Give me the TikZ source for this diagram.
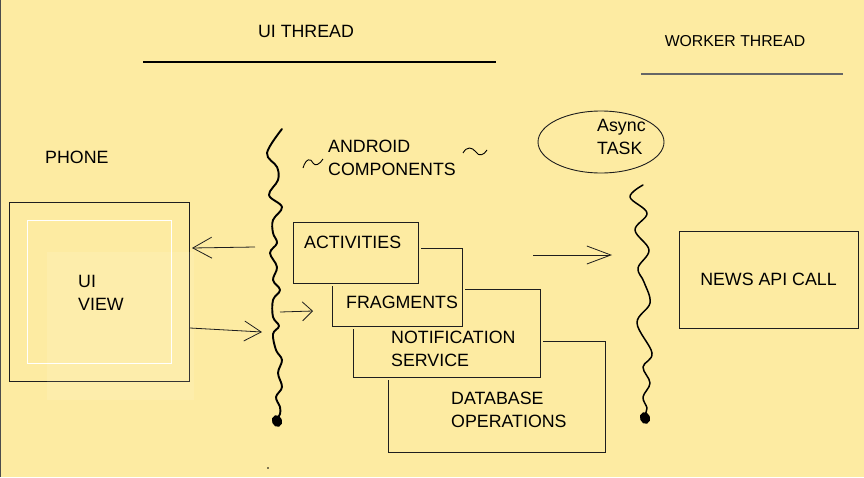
\documentclass[tikz,border=0pt]{standalone}
\usepackage{fontspec}
\setmainfont{Liberation Sans}
\usetikzlibrary{arrows.meta,shapes.geometric}
\definecolor{bg}{RGB}{253,235,162}
\definecolor{ink}{RGB}{30,30,30}
\tikzset{
  lbl/.style={font=\fontsize{17.8}{22.5}\selectfont, inner sep=0pt, anchor=west, align=left, text=black},
  box/.style={draw=ink, line width=0.9pt, fill=bg, rectangle, inner sep=0pt},
  stackbox/.style={box, preaction={draw=bg, line width=6pt}},
  wave/.style={draw=black, line width=1.9pt, line cap=round, line join=round},
  arr/.style={draw=ink, line width=0.8pt},
  blob/.style={fill=black, draw=black, line width=1pt, ellipse, inner sep=0pt, minimum width=9pt, minimum height=11pt, rotate=20},
}
\begin{document}
\begin{tikzpicture}[x=1pt,y=-1pt]
\useasboundingbox (0,0) rectangle (864,477);
\fill[bg] (0,0) rectangle (864,477);
\draw[line width=1.4pt, draw=black!70] (0.7,0) -- (0.7,477);

% titles
\node[lbl, anchor=center] (uit) at (306,31) {UI THREAD};
\draw[line width=1.1pt] (143,62) -- (496,62);
\node[lbl, anchor=center, font=\fontsize{15.8}{20}\selectfont] (wt) at (735,41) {WORKER THREAD};
\draw[line width=1.4pt, draw=black!60] (641,74) -- (843,74);

% phone
\node[lbl] (phone) at (45,157) {PHONE};
\node[box, fill=none, minimum width=180, minimum height=179] (outer) at (99,291.5) {};
\node[draw=white, line width=0.9pt, rectangle, minimum width=144, minimum height=143] (inner) at (99,291.5) {};
\fill[white, fill opacity=0.1] (47,252) rectangle (194,400);
\node[lbl] (uiview) at (78,293) {UI\\VIEW};

% arrows phone <-> thread
\coordinate (a1s) at (255,247);
\coordinate (a1e) at (192,248);
\draw[arr, -{Straight Barb[length=19pt,width=21pt,line width=0.8pt]}] (a1s) -- (a1e);
\coordinate (a2s) at (190,328);
\coordinate (a2e) at (262,332);
\draw[arr, -{Straight Barb[length=17pt,width=20pt,line width=0.8pt]}] (a2s) -- (a2e);

% UI thread wave
\draw[wave] plot[smooth, tension=0.6] coordinates {
  (282,129) (267,153) (277,167) (278,180) (269,195) (282,207) (273,220)
  (273,233) (277,243) (270,253) (277,267) (273,280) (280,290) (273,300)
  (273,317) (279,326) (273,334) (276,350) (282,360) (278,373) (282,387)
  (276,397) (280,407) (280,414) (277,419)};
\node[blob] (b1) at (277,421) {};
\fill[black] (268,468) circle (0.9pt);

% android components
\node[lbl] (ac) at (328,158) {ANDROID\\COMPONENTS};
\draw[line width=0.9pt] (303,168) .. controls (306,158) and (311,158) .. (313,163) .. controls (315,167) and (320,164) .. (323,159);
\draw[line width=0.9pt] (463,153) .. controls (467,146) and (472,147) .. (476,152) .. controls (479,157) and (484,155) .. (487,150);

% stacked boxes (back to front)
\node[stackbox, minimum width=217, minimum height=111] (db) at (496.5,396.5) {};
\node[lbl] (dbt) at (451,410) {DATABASE\\OPERATIONS};
\node[stackbox, minimum width=187, minimum height=88] (notif) at (446.5,333) {};
\node[lbl] (nt) at (391,349) {NOTIFICATION\\SERVICE};
\node[stackbox, minimum width=130, minimum height=78] (frag) at (397,287) {};
\node[lbl] (ft) at (346,302) {FRAGMENTS};
\node[stackbox, minimum width=125, minimum height=61] (act) at (355.5,252.5) {};
\node[lbl] (at) at (304,242) {ACTIVITIES};

\coordinate (a3s) at (280,312);
\coordinate (a3e) at (313,311);
\draw[arr, -{Straight Barb[length=10pt,width=19pt,line width=0.8pt]}] (a3s) -- (a3e);

% worker side
\coordinate (a4s) at (533,255);
\coordinate (a4e) at (612,255);
\draw[arr, -{Straight Barb[length=24pt,width=18pt,line width=0.8pt]}] (a4s) -- (a4e);

\node[draw=ink, line width=0.9pt, ellipse, minimum width=126, minimum height=62, inner sep=0pt] (async) at (601,142) {};
\node[lbl] (asynct) at (597,137) {Async\\TASK};

\draw[wave, line width=1.5pt] plot[smooth, tension=0.6] coordinates {
  (643,185) (630,197) (647,213) (635,230) (649,250) (638,268) (644,282)
  (650,303) (637,323) (652,353) (643,367) (650,383) (643,397) (647,408) (645,414)};
\node[blob] (b2) at (645,418) {};

\node[box, minimum width=179, minimum height=97] (news) at (768.5,279.5) {};
\node[lbl, anchor=center] (newst) at (news.center) {NEWS API CALL};
\end{tikzpicture}
\end{document}
